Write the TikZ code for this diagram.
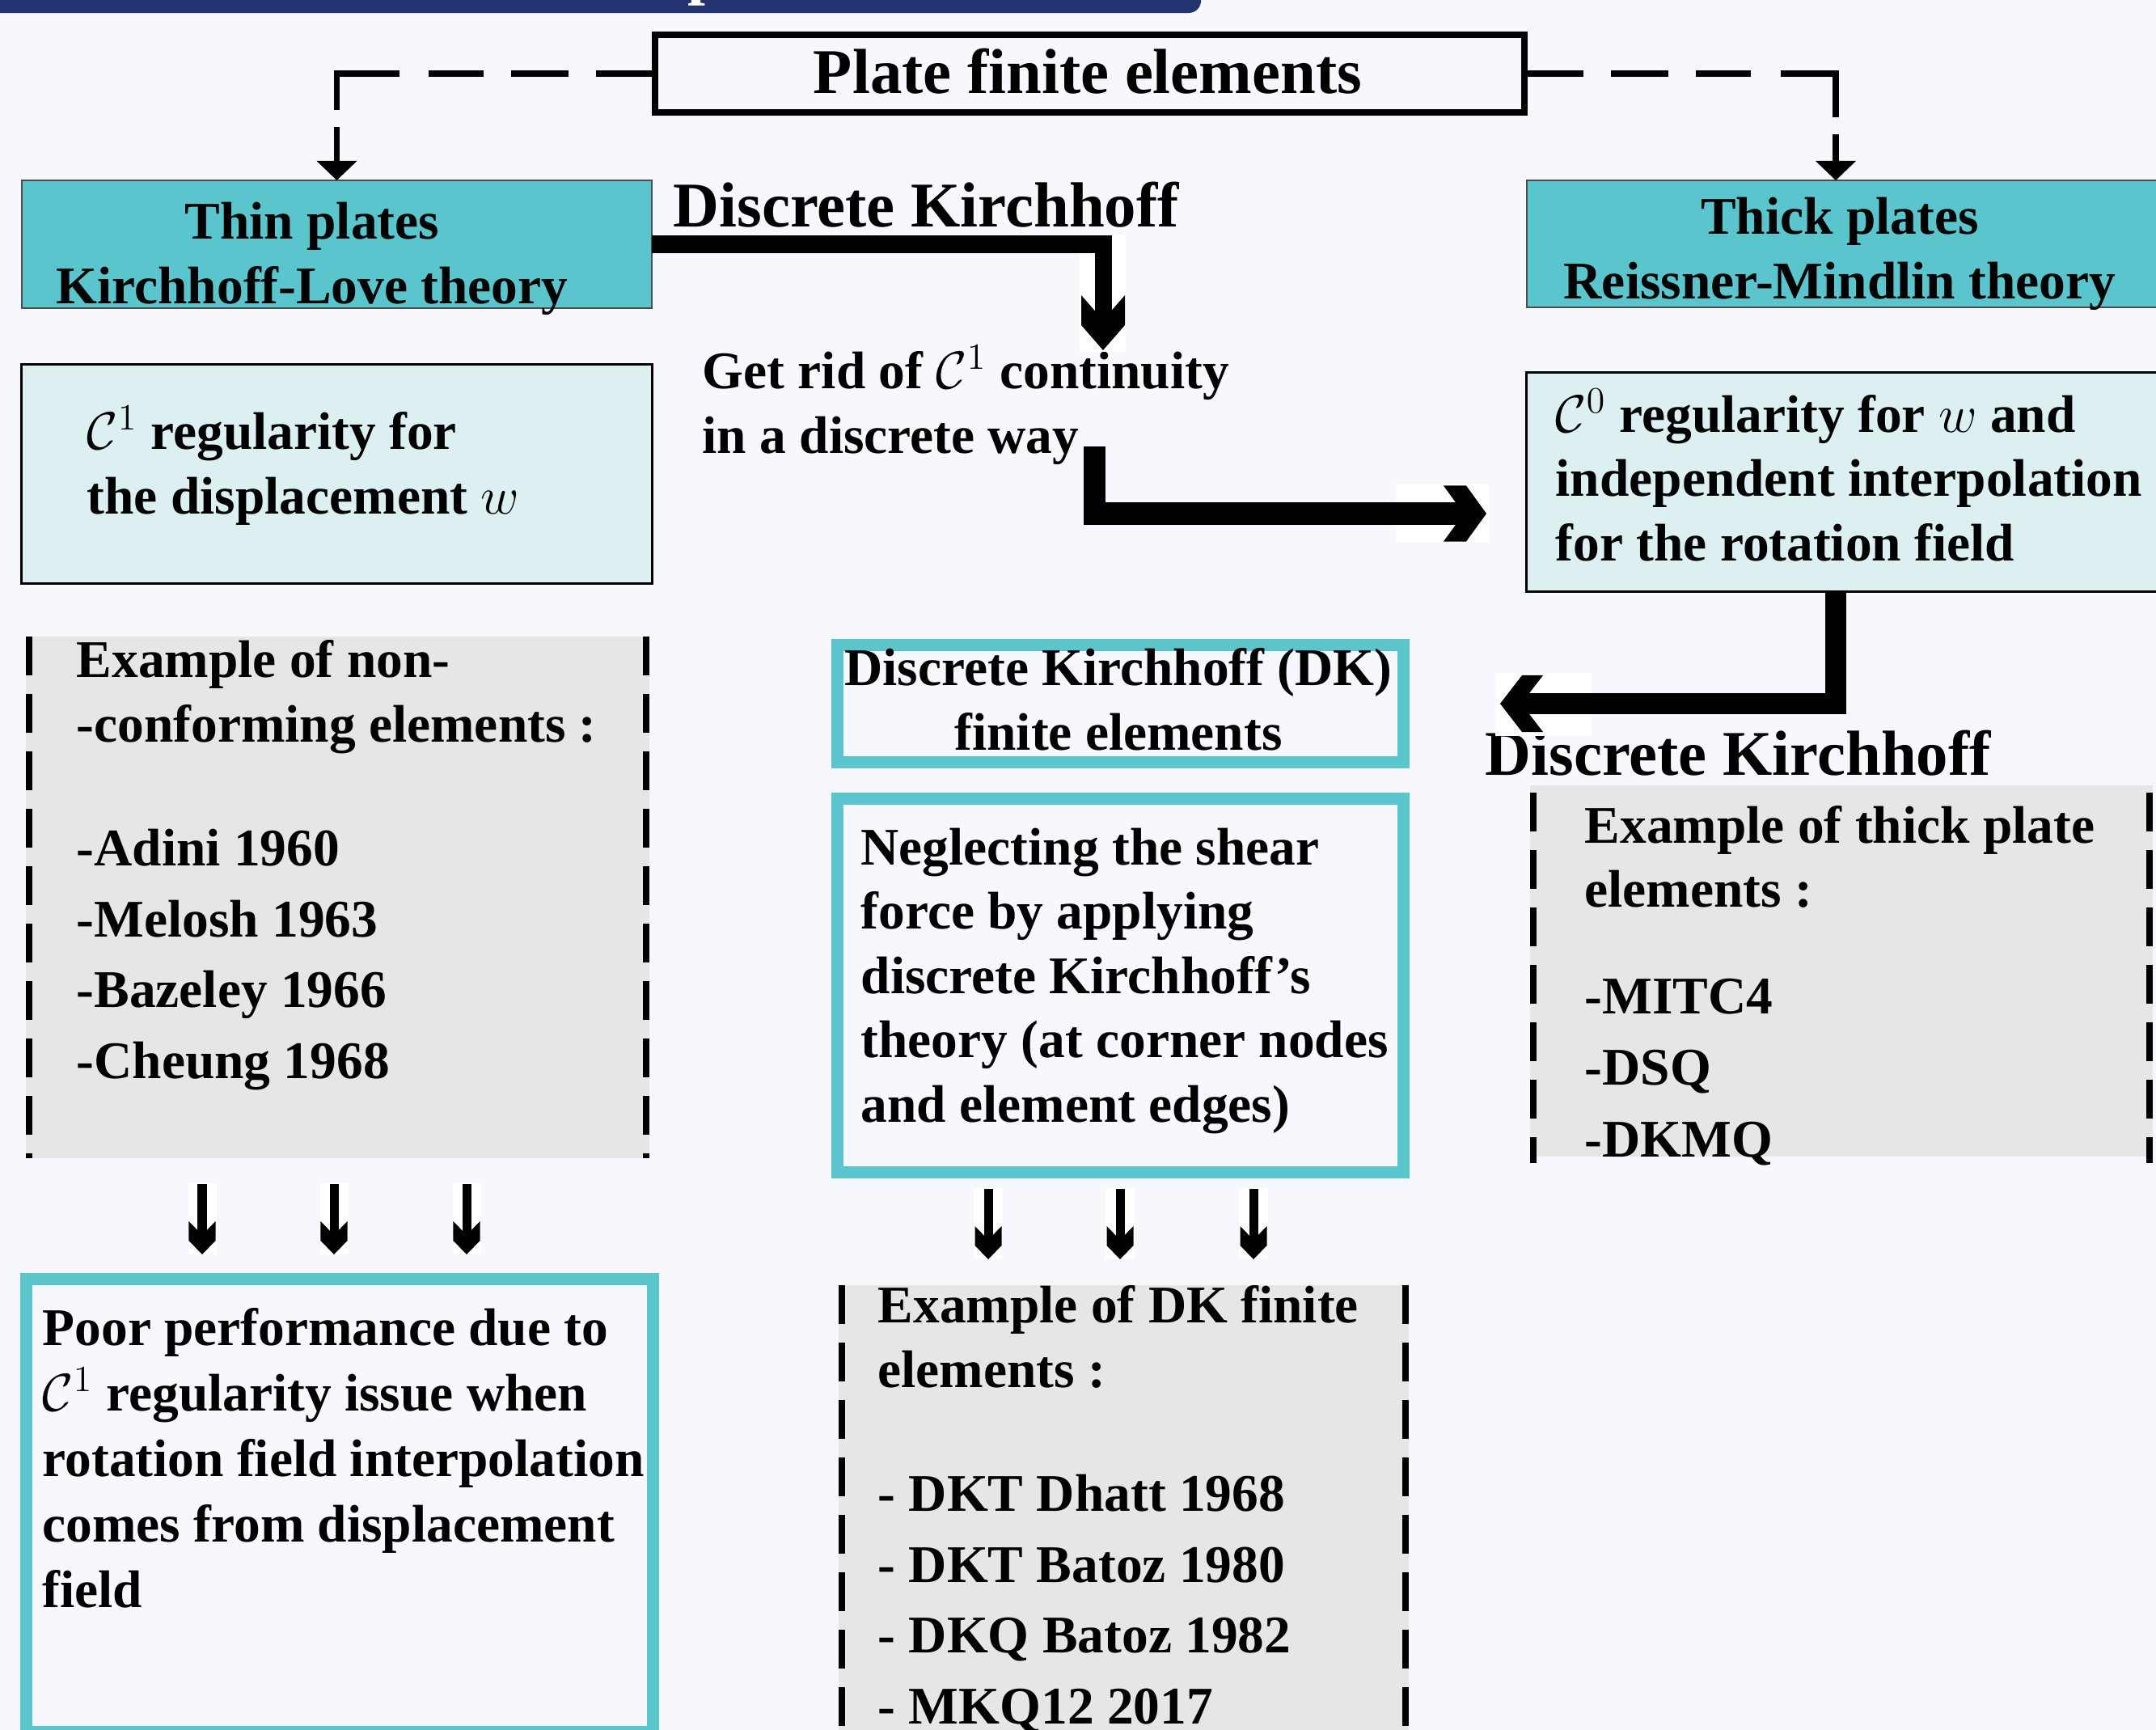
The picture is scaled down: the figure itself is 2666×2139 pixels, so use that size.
\documentclass[tikz,border=0pt]{standalone}
\usepackage{fix-cm}
\usepackage{fontspec}
\setmainfont{Liberation Serif}
\usetikzlibrary{arrows.meta}

\definecolor{bgc}{HTML}{F7F8FD}
\definecolor{navyc}{HTML}{22336F}
\definecolor{tealc}{HTML}{5BC5CD}
\definecolor{cyanc}{HTML}{DDF0F1}
\definecolor{grayc}{HTML}{E6E6E6}

\pgfdeclarearrow{
  name = Chev,
  parameters = {\the\pgfarrowlength,\the\pgfarrowwidth,\the\pgfarrowinset},
  setup code = {
    \pgfarrowssettipend{0pt}
    \pgfarrowssetbackend{-\pgfarrowlength}
    \pgfarrowssetlineend{-\pgfarrowinset}
    \pgfarrowssavethe\pgfarrowlength
    \pgfarrowssavethe\pgfarrowwidth
    \pgfarrowssavethe\pgfarrowinset
  },
  drawing code = {
    \pgfpathmoveto{\pgfqpoint{0pt}{0pt}}
    \pgfpathlineto{\pgfpoint{\pgfarrowinset-\pgfarrowlength}{.5\pgfarrowwidth}}
    \pgfpathlineto{\pgfpoint{-\pgfarrowlength}{.5\pgfarrowwidth}}
    \pgfpathlineto{\pgfpoint{-\pgfarrowinset}{0pt}}
    \pgfpathlineto{\pgfpoint{-\pgfarrowlength}{-.5\pgfarrowwidth}}
    \pgfpathlineto{\pgfpoint{\pgfarrowinset-\pgfarrowlength}{-.5\pgfarrowwidth}}
    \pgfpathclose
    \pgfusepathqfill
  },
  defaults = {length=10pt, width=10pt, inset=5pt}
}

\newcommand\bodyf{\fontsize{18.6}{22.6}\selectfont\bfseries}
\newcommand\poorf{\fontsize{18.6}{23}\selectfont\bfseries}
\newcommand\bigf{\fontsize{22.4}{27}\selectfont\bfseries}

\tikzset{
  box/.style={rectangle, inner sep=0pt, outer sep=0pt},
  headbox/.style={box, fill=tealc, draw=black!70, line width=0.02cm},
  regbox/.style={box, fill=cyanc, draw=black, line width=0.03cm},
  tealbox/.style={box, fill=bgc, draw=tealc, line width=0.15cm},
  graybox/.style={box, fill=grayc},
  sidedash/.style={line width=0.08cm, dash pattern=on 0.48cm off 0.23cm},
  % multi-line texts: the base anchor is the baseline of the LAST line
  bodytxt/.style={inner sep=0pt, font=\bodyf, align=left, anchor=base west},
  bodyctr/.style={inner sep=0pt, font=\bodyf, align=center, anchor=base},
  bigtxt/.style={inner sep=0pt, font=\bigf, anchor=base west},
  dashconn/.style={line width=0.075cm,
    dash pattern=on 0.73cm off 0.34cm on 0.71cm off 0.34cm on 0.68cm off 0.36cm on 1.22cm off 0.21cm on 3cm off 0.1cm,
    -{Triangle[length=0.24cm,width=0.5cm,line width=0pt]}},
  smallconn/.style={line width=0.11cm, -{Chev[length=0.41cm,width=0.33cm,inset=0.24cm]}},
  patch/.style={fill=white}
}

\begin{document}
\begin{tikzpicture}[x=0.01cm, y=-0.01cm]
\useasboundingbox (0,0) rectangle (2666,2139);
\fill[bgc] (0,0) rectangle (2666,2139);

% title bar (cut off at the top)
\fill[navyc, rounded corners=0.15cm] (-30,-60) rectangle (1485,16);
\node[inner sep=0pt, anchor=base west, text=white, font=\bigf] (titlep) at (850,-10) {p};

% boxes
\node[box, fill=bgc, draw=black, line width=0.08cm, minimum width=10.75cm, minimum height=0.96cm] (plate) at (1347.5,91) {};
\node[headbox, minimum width=7.79cm, minimum height=1.58cm] (thin) at (416.5,302) {};
\node[headbox, minimum width=8.32cm, minimum height=1.57cm] (thick) at (2304,301.5) {};
\node[regbox, minimum width=7.79cm, minimum height=2.70cm] (c1box) at (416.5,586) {};
\node[regbox, minimum width=8.32cm, minimum height=2.70cm] (c0box) at (2304,596) {};
\node[graybox, minimum width=7.71cm, minimum height=6.45cm] (lgray) at (417.5,1109.5) {};
\node[graybox, minimum width=7.70cm, minimum height=4.59cm] (tgray) at (2277,1200.5) {};
\node[graybox, minimum width=7.05cm, minimum height=5.61cm] (dgray) at (1389.5,1869.5) {};
\node[tealbox, minimum width=7.00cm, minimum height=1.45cm] (dkhead) at (1385.5,870) {};
\node[tealbox, minimum width=7.00cm, minimum height=4.62cm] (negl) at (1385.5,1218.5) {};
\node[tealbox, minimum width=7.75cm, minimum height=5.595cm] (poor) at (420,1861.25) {};

% dashed sides of the grey boxes
\draw[sidedash] ([xshift=0.04cm]lgray.north west) -- ([xshift=0.04cm]lgray.south west);
\draw[sidedash] ([xshift=-0.045cm]lgray.north east) -- ([xshift=-0.045cm]lgray.south east);
\draw[sidedash] ([xshift=0.04cm,yshift=-0.09cm]tgray.north west) -- ([xshift=0.04cm,yshift=-0.08cm]tgray.south west);
\draw[sidedash] ([xshift=-0.04cm,yshift=-0.09cm]tgray.north east) -- ([xshift=-0.04cm,yshift=-0.08cm]tgray.south east);
\draw[sidedash] ([xshift=0.04cm]dgray.north west) -- ([xshift=0.04cm]dgray.south west);
\draw[sidedash] ([xshift=-0.04cm]dgray.north east) -- ([xshift=-0.04cm]dgray.south east);

% texts (positions give the baseline of the last line)
\node[font=\bigf, inner sep=0pt, anchor=base] (plateT) at (1345,115) {Plate finite elements};
\node[bodyctr] (thinT) at (386,375) {Thin plates\\Kirchhoff-Love theory};
\node[bodyctr] (thickT) at (2275,369) {Thick plates\\Reissner-Mindlin theory};
\node[bigtxt] (dkA) at (832,280) {Discrete Kirchhoff};
\node[bigtxt] (dkB) at (1836,958) {Discrete Kirchhoff};
\node[bodytxt] (getrid) at (868,560) {Get rid of $\mathcal{C}^1$ continuity\\in a discrete way};
\node[bodytxt] (c1T) at (107,635) {$\mathcal{C}^1$ regularity for\\the displacement $w$};
\node[bodytxt] (c0T) at (1923,693) {$\mathcal{C}^0$ regularity for $w$ and\\independent interpolation\\for the rotation field};
\node[bodytxt] (lgT) at (94,1333) {Example of non-\\-conforming elements :\\[0.74cm]-Adini 1960\\[0.08cm]-Melosh 1963\\[0.08cm]-Bazeley 1966\\[0.08cm]-Cheung 1968};
\node[bodytxt] (tgT) at (1959,1430) {Example of thick plate\\elements :\\[0.52cm]-MITC4\\[0.09cm]-DSQ\\[0.09cm]-DKMQ};
\node[bodyctr] (dkhT) at (1383,927) {Discrete Kirchhoff (DK)\\finite elements};
\node[bodytxt] (neglT) at (1064,1387) {Neglecting the shear\\force by applying\\discrete Kirchhoff’s\\theory (at corner nodes\\and element edges)};
\node[bodytxt, font=\poorf] (poorT) at (52,1987) {Poor performance due to\\$\mathcal{C}^1$ regularity issue when\\rotation field interpolation\\comes from displacement\\field};
\node[bodytxt] (dgT) at (1085,2131) {Example of DK finite\\elements :\\[0.74cm]- DKT Dhatt 1968\\[0.08cm]- DKT Batoz 1980\\[0.08cm]- DKQ Batoz 1982\\[0.08cm]- MKQ12 2017};

% dashed connectors from the top box
\coordinate (drtip) at (2270,223);
\draw[dashconn] (plate.west) -| (thin.north);
\draw[dashconn] (plate.east) -| (drtip);

% white patches behind the heavy arrow heads
\fill[patch] (1335,290) rectangle (1392,435);
\fill[patch] (1726,598) rectangle (1841,671);
\fill[patch] (1849,832) rectangle (1968,910);

% heavy connectors
\coordinate (k1tip) at (1364,433);
\draw[line width=0.21cm, -{Chev[length=0.68cm,width=0.54cm,inset=0.37cm]}] (thin.east) -| (k1tip);
\coordinate (k2start) at (1353.5,552);
\coordinate (k2tip) at (1838,635);
\draw[line width=0.27cm, -{Chev[length=0.53cm,width=0.69cm,inset=0.28cm]}] (k2start) |- (k2tip);
\coordinate (k3start) at ([xshift=-0.34cm]c0box.south);
\coordinate (k3tip) at (1855,870);
\draw[line width=0.26cm, -{Chev[length=0.53cm,width=0.70cm,inset=0.26cm]}] (k3start) |- (k3tip);

% small arrows
\foreach \xx [count=\i] in {250,413,577} {
  \coordinate (la\i) at (\xx,1464);
  \coordinate (lb\i) at (\xx,1551);
  \fill[patch] (\xx-17.5,1463) rectangle (\xx+17.5,1551);
  \draw[smallconn] (la\i) -- (lb\i);
}
\foreach \xx [count=\i] in {1222,1385,1550} {
  \coordinate (ra\i) at (\xx,1470);
  \coordinate (rb\i) at (\xx,1557);
  \fill[patch] (\xx-18,1469) rectangle (\xx+18,1557);
  \draw[smallconn] (ra\i) -- (rb\i);
}
\end{tikzpicture}
\end{document}
